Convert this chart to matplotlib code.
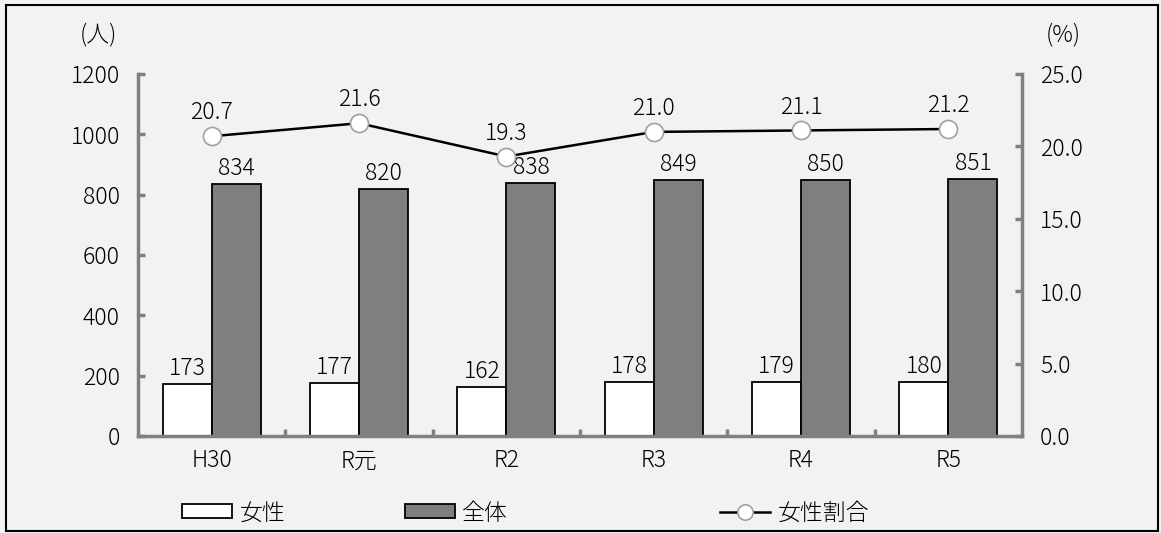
import numpy as np
import matplotlib.pyplot as plt
from matplotlib.patches import Rectangle

plt.rcParams['font.family'] = ['Noto Sans CJK JP', 'DejaVu Sans']

# 年度ごとの人数と女性割合
years = ['H30', 'R元', 'R2', 'R3', 'R4', 'R5']
women = [173, 177, 162, 178, 179, 180]
total = [834, 820, 838, 849, 850, 851]
ratio = [20.7, 21.6, 19.3, 21.0, 21.1, 21.2]

bg = '#f2f2f2'
axis_gray = '#808080'
fs = 16.5

fig = plt.figure(figsize=(11.61, 5.33), dpi=100, facecolor=bg)
ax = fig.add_axes([0.1189, 0.182, 0.7614, 0.6792])
ax.set_facecolor(bg)
ax2 = ax.twinx()

x = np.arange(len(years))
w = 0.333

b1 = ax.bar(x - w / 2, women, w, color='white', edgecolor='black', linewidth=1.3,
            label='女性', zorder=2)
b2 = ax.bar(x + w / 2, total, w, color='#7f7f7f', edgecolor='black', linewidth=1.3,
            label='全体', zorder=2)
for rect, v in zip(b1, women):
    ax.text(rect.get_x() + rect.get_width() / 2, v + 10, str(v),
            ha='center', va='bottom', fontsize=fs, fontweight='light')
for rect, v in zip(b2, total):
    ax.text(rect.get_x() + rect.get_width() / 2, v + 10, str(v),
            ha='center', va='bottom', fontsize=fs, fontweight='light')

ln, = ax2.plot(x, ratio, color='black', linewidth=1.8, marker='o', markersize=13,
               markerfacecolor='white', markeredgecolor='#a0a0a0', markeredgewidth=1.2,
               label='女性割合', zorder=3)
for xi, v in zip(x, ratio):
    ax2.text(xi, v + 0.75, f'{v:.1f}', ha='center', va='bottom', fontsize=fs,
             fontweight='light')

ax.set_xlim(-0.5, len(years) - 0.5)
ax.set_ylim(0, 1200)
ax2.set_ylim(0, 25)
ax.set_yticks(np.arange(0, 1201, 200))
ax2.set_yticks(np.arange(0, 25.1, 5))
ax2.set_yticklabels([f'{v:.1f}' for v in np.arange(0, 25.1, 5)])
ax.set_xticks(x)
ax.set_xticklabels(years)
ax.set_xticks(np.arange(0.5, len(years) - 1, 1), minor=True)

for a in (ax, ax2):
    a.spines['top'].set_visible(False)
    for s in ('left', 'right', 'bottom'):
        a.spines[s].set_color(axis_gray)
        a.spines[s].set_linewidth(2.5)
    for lbl in a.get_yticklabels() + a.get_xticklabels():
        lbl.set_fontweight('light')
ax.spines['right'].set_visible(False)
ax2.spines['left'].set_visible(False)
ax2.spines['bottom'].set_visible(False)

ax.tick_params(axis='y', direction='in', length=5, width=2.5, color=axis_gray,
               labelsize=fs, pad=13)
ax2.tick_params(axis='y', direction='in', length=5, width=2.5, color=axis_gray,
                labelsize=fs, pad=13)
ax.tick_params(axis='x', which='major', length=0, labelsize=fs, pad=9)
ax.tick_params(axis='x', which='minor', direction='in', length=5, width=2.5,
               color=axis_gray)

fig.text(0.0845, 0.934, '(人)', ha='center', va='center', fontsize=fs,
         fontweight='light')
fig.text(0.9156, 0.934, '(%)', ha='center', va='center', fontsize=fs,
         fontweight='light')

# 凡例は項目ごとに位置を指定
leg_y = 1 - 513 / 533
for handle, lx in [(b1, 182), (b2, 405), (ln, 720)]:
    leg = fig.legend(handles=[handle], loc='center left',
                     bbox_to_anchor=(lx / 1161, leg_y), frameon=False,
                     fontsize=fs, handlelength=2.2, handleheight=0.55,
                     handletextpad=0.3, borderpad=0, borderaxespad=0,
                     markerscale=0.85, prop={'size': fs, 'weight': 'light'})

# 外枠
fig.patches.append(Rectangle((0.005, 0.004), 0.992, 0.986, transform=fig.transFigure,
                             fill=False, edgecolor='black', linewidth=1.5))

fig.savefig('out.png', dpi=100, facecolor=bg)
